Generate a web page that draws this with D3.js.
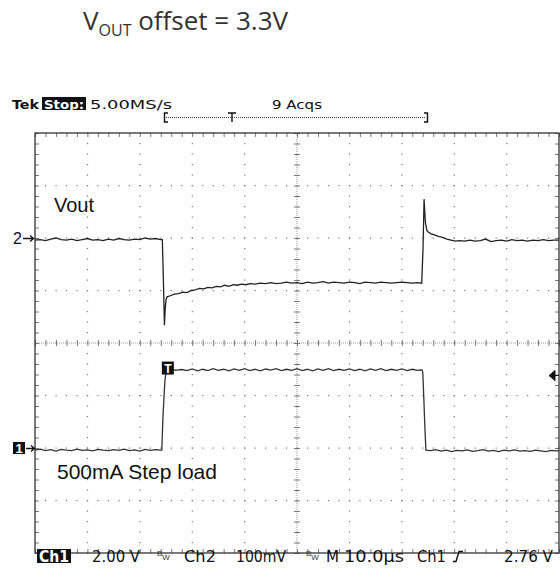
<!DOCTYPE html>
<html>
<head>
<meta charset="utf-8">
<script src="https://cdn.jsdelivr.net/npm/d3@7"></script>
<style>
body { margin: 0; background: #fff; }
svg { display: block; }
</style>
</head>
<body>
<svg id="svg" width="560" height="571"></svg>
<script>
// ---- scope settings ----
var timePerDiv = 10;          // µs/div (M 10.0µs)
var ch1VoltsPerDiv = 2;       // V/div
var ch2MilliVoltsPerDiv = 100;// mV/div
var ch1Position = -2;         // divisions from centre (1-> marker)
var ch2Position = 2;          // divisions from centre (2-> marker)
var triggerTime = 24.4;       // µs from left edge
var triggerLevel = 2.76;      // V on Ch1

// ---- Ch2 : Vout (mV, relative to the 3.3V offset) ----
var voutTime = [0, 1, 2, 3, 4, 5, 6, 7, 8, 9, 10, 11, 12, 13, 14, 15, 16, 17, 18, 19, 20, 21, 22, 23, 24, 24.3,
  24.45, 24.55, 24.7, 24.85, 25.0, 25.2,
  25.8, 26.6, 27.4, 28.2, 29.0, 29.8, 30.6, 31.4, 32.2, 33.0, 33.8, 34.6, 35.4, 36.2, 37.0, 37.8, 38.6, 39.4, 40.2, 41,
  42, 43, 44, 45, 46, 47, 48, 49, 50, 51, 52, 53, 54, 55, 56, 57, 58, 59, 60, 61, 62, 63, 64, 65, 66, 67, 68, 69, 70,
  71, 72, 73, 73.8,
  74.05, 74.25, 74.5, 74.8, 75.1, 75.6, 76.2, 77.0, 77.8, 78.6, 79.4, 80.2,
  81, 82, 83, 84, 85, 86, 87, 88, 89, 90, 91, 92, 93, 94, 95, 96, 97, 98, 99, 100];
var voutMv = [-4, -3, -5, -2, 0, -3, -4, -2, -5, -3, -1, -4, -3, -5, -2, -4, -1, -3, -4, -2, -3, 0, -2, -1, -3, -3,
  -60, -100, -166, -135, -118, -112,
  -110, -107, -106, -103, -104, -100, -99, -96, -97, -94, -95, -92, -93, -90, -92, -89, -90, -88, -89, -87,
  -88, -86, -87, -85, -87, -86, -84, -86, -85, -87, -84, -86, -85, -83, -86, -84, -85, -86, -84, -85, -87, -84, -85, -86, -84,
  -85, -86, -85, -84,
  -85, -86, -85, -86,
  -20, 74, 30, 14, 11, 8, 6, 3, 1, -2, -4, -6,
  -5, -6, -4, -6, -5, -2, -7, -5, -4, -6, -3, -5, -4, -6, -4, -5, -3, -5, -4, -4];

// ---- Ch1 : 500mA step load (V) ----
var loadTime = [0, 1, 2, 3, 4, 5, 6, 7, 8, 9, 10, 11, 12, 13, 14, 15, 16, 17, 18, 19, 20, 21, 22, 23, 24, 24.2,
  24.4, 24.8, 25.1,
  26, 27, 28, 29, 30, 31, 32, 33, 34, 35, 36, 37, 38, 39, 40, 41, 42, 43, 44, 45, 46, 47, 48, 49, 50,
  51, 52, 53, 54, 55, 56, 57, 58, 59, 60, 61, 62, 63, 64, 65, 66, 67, 68, 69, 70, 71, 72, 73, 73.8,
  74.0, 74.2, 74.4, 74.6,
  75.5, 76.5, 77.5, 78.5, 79.5, 80.5, 81.5, 82.5, 83.5, 84.5, 85.5, 86.5, 87.5, 88.5, 89.5, 90.5,
  91.5, 92.5, 93.5, 94.5, 95.5, 96.5, 97.5, 98.5, 99.5, 100];
var loadVolt = [-0.08, -0.04, -0.1, -0.06, -0.12, -0.05, -0.08, -0.1, -0.04, -0.09, -0.07, -0.11, -0.05, -0.08, -0.1, -0.06,
  -0.09, -0.04, -0.1, -0.07, -0.12, -0.05, -0.09, -0.06, -0.08, -0.08,
  1.1, 2.6, 2.97,
  2.98, 2.97, 2.99, 2.95, 3.01, 2.94, 3.0, 2.95, 3.02, 2.96, 3.0, 2.94, 3.01, 2.96, 3.02, 2.95, 3.0, 2.94, 3.01, 2.97,
  3.02, 2.95, 3.0, 2.96, 3.02, 2.95, 3.0, 2.94, 3.01, 2.96, 3.02, 2.95, 3.0, 2.96, 3.01, 2.95, 3.0, 2.94, 3.01, 2.96,
  3.02, 2.95, 3.0, 2.96, 3.01, 2.95, 3.0, 2.96, 2.98,
  2.9, 1.9, 0.8, -0.08,
  -0.1, -0.06, -0.12, -0.08, -0.14, -0.09, -0.11, -0.07, -0.13, -0.1, -0.06, -0.12, -0.09, -0.14, -0.08, -0.11,
  -0.07, -0.12, -0.1, -0.13, -0.08, -0.11, -0.14, -0.09, -0.11, -0.1];

var svg = d3.select('#svg');
var g = svg.append('g');

// screen: 10 x 8 divisions
var x = d3.scaleLinear().domain([0, 10 * timePerDiv]).range([35, 559]);
var div = d3.scaleLinear().domain([-4, 4]).range([553, 133]);
var ch1Y = function (v) { return div(v / ch1VoltsPerDiv + ch1Position); };
var ch2Y = function (v) { return div(v / ch2MilliVoltsPerDiv + ch2Position); };

var minorX = x.ticks(50);          // 1/5 div steps
var minorY = div.ticks(40);
var majorX = x.ticks(10);
var majorY = div.ticks(8);

// ---- graticule ----
var grid = g.append('g');
// dotted division lines
majorX.filter(function (t) { return t > 0 && t < 100 && t !== 50; }).forEach(function (t) {
  grid.selectAll(null).data(minorY).enter().append('rect')
    .attr('x', x(t) - 0.5).attr('y', function (d) { return div(d) - 0.5; })
    .attr('width', 1.2).attr('height', 1.2).attr('fill', '#777');
});
majorY.filter(function (d) { return d > -4 && d < 4 && d !== 0; }).forEach(function (d) {
  grid.selectAll(null).data(minorX).enter().append('rect')
    .attr('x', function (t) { return x(t) - 0.5; }).attr('y', div(d) - 0.5)
    .attr('width', 1.2).attr('height', 1.2).attr('fill', '#777');
});
// centre cross with ticks
grid.append('line').attr('x1', x(50)).attr('x2', x(50)).attr('y1', div(4)).attr('y2', div(-4))
  .attr('stroke', '#999').attr('stroke-dasharray', '1,1');
grid.append('line').attr('x1', x(0)).attr('x2', x(100)).attr('y1', div(0)).attr('y2', div(0))
  .attr('stroke', '#999').attr('stroke-dasharray', '1,1');
grid.selectAll(null).data(minorY).enter().append('line')
  .attr('x1', x(50) - 3).attr('x2', x(50) + 3)
  .attr('y1', function (d) { return div(d) + 0.5; }).attr('y2', function (d) { return div(d) + 0.5; })
  .attr('stroke', '#777');
grid.selectAll(null).data(minorX).enter().append('line')
  .attr('y1', div(0) - 3).attr('y2', div(0) + 3)
  .attr('x1', function (t) { return x(t) + 0.5; }).attr('x2', function (t) { return x(t) + 0.5; })
  .attr('stroke', '#777');
// ticks on the frame edges
grid.selectAll(null).data(minorX).enter().append('path')
  .attr('d', function (t) {
    var px = x(t) + 0.5;
    return 'M' + px + ',' + div(4) + 'v4M' + px + ',' + div(-4) + 'v-4';
  })
  .attr('stroke', '#777');
grid.selectAll(null).data(minorY).enter().append('path')
  .attr('d', function (d) {
    var py = div(d) + 0.5;
    return 'M' + x(0) + ',' + py + 'h4M' + x(100) + ',' + py + 'h-4';
  })
  .attr('stroke', '#777');

// frame
g.append('rect')
  .attr('x', x(0)).attr('y', div(4))
  .attr('width', x(100) - x(0)).attr('height', div(-4) - div(4))
  .attr('fill', 'none').attr('stroke', '#333').attr('stroke-width', 1.3);

// ---- traces ----
var vout = d3.line()
  .x(function (d, i) { return x(voutTime[i]); })
  .y(function (d) { return ch2Y(d); });
var load = d3.line()
  .x(function (d, i) { return x(loadTime[i]); })
  .y(function (d) { return ch1Y(d); });

g.append('path').attr('d', vout(voutMv))
  .attr('fill', 'none').attr('stroke', '#222').attr('stroke-width', 1.3);
g.append('path').attr('d', load(loadVolt))
  .attr('fill', 'none').attr('stroke', '#333').attr('stroke-width', 1.3);

// trigger marker on ch1
var tx = x(triggerTime), ty = ch1Y(triggerLevel);
g.append('rect').attr('x', tx - 1).attr('y', ty - 14).attr('width', 12).attr('height', 13).attr('fill', '#111');
g.append('text').attr('x', tx + 5).attr('y', ty - 3).attr('text-anchor', 'middle')
  .attr('font-family', 'Liberation Sans, Arial, sans-serif').attr('font-weight', 'bold')
  .attr('font-size', 12).attr('fill', '#fff').text('T');
// trigger level arrow on the right edge
g.append('path')
  .attr('d', 'M' + (x(100) - 10) + ',' + ty + 'l6,-5v10z M' + (x(100) - 5) + ',' + ty + 'H' + x(100))
  .attr('fill', '#111').attr('stroke', '#111');

// ---- labels ----
var font = 'Liberation Sans, Arial, sans-serif';
var scopeFont = 'DejaVu Sans, Verdana, sans-serif';

// title
var title = svg.append('text').attr('x', 83).attr('y', 30)
  .attr('font-family', 'Open Sans, Noto Sans, sans-serif').attr('font-size', 26).attr('fill', '#333');
title.append('tspan').text('V');
title.append('tspan').attr('font-size', 16).attr('dy', 6).text('OUT');
title.append('tspan').attr('dy', -6).text(' offset = 3.3V');

// header
svg.append('text').attr('x', 12).attr('y', 109).attr('font-family', scopeFont)
  .attr('font-size', 13).attr('font-weight', 'bold').attr('fill', '#111')
  .attr('textLength', 27).attr('lengthAdjust', 'spacingAndGlyphs').text('Tek');
svg.append('rect').attr('x', 42).attr('y', 97).attr('width', 44).attr('height', 13).attr('fill', '#111');
svg.append('text').attr('x', 44).attr('y', 109).attr('font-family', scopeFont)
  .attr('font-size', 13).attr('font-weight', 'bold').attr('fill', '#fff')
  .attr('textLength', 40).attr('lengthAdjust', 'spacingAndGlyphs').text('Stop:');
svg.append('text').attr('x', 90).attr('y', 109).attr('font-family', scopeFont)
  .attr('font-size', 13).attr('fill', '#111')
  .attr('textLength', 82).attr('lengthAdjust', 'spacingAndGlyphs').text('5.00MS/s');
svg.append('text').attr('x', 272).attr('y', 109).attr('font-family', scopeFont)
  .attr('font-size', 13).attr('fill', '#111')
  .attr('textLength', 50).attr('lengthAdjust', 'spacingAndGlyphs').text('9 Acqs');

// record bracket
svg.append('line').attr('x1', 166).attr('x2', 426).attr('y1', 117.5).attr('y2', 117.5)
  .attr('stroke', '#444').attr('stroke-dasharray', '1,1');
svg.append('path').attr('d', 'M168,113H164.5V122H168 M424,113H427.5V122H424 M228,113H236 M232,113V122')
  .attr('fill', 'none').attr('stroke', '#111').attr('stroke-width', 1.4);

// channel ground markers
svg.append('text').attr('x', 13).attr('y', ch2Y(0) + 6).attr('font-family', font)
  .attr('font-size', 16).attr('fill', '#111').text('2');
svg.append('path').attr('d', 'M23,' + (ch2Y(0) + 0.5) + 'H33 M30,' + (ch2Y(0) - 2.5) + 'L33.5,' + (ch2Y(0) + 0.5) + 'L30,' + (ch2Y(0) + 3.5))
  .attr('fill', 'none').attr('stroke', '#111').attr('stroke-width', 1.3);
svg.append('rect').attr('x', 13).attr('y', ch1Y(0) - 6).attr('width', 12).attr('height', 12).attr('fill', '#111');
svg.append('text').attr('x', 19).attr('y', ch1Y(0) + 5).attr('text-anchor', 'middle').attr('font-family', font)
  .attr('font-size', 13).attr('font-weight', 'bold').attr('fill', '#fff').text('1');
svg.append('path').attr('d', 'M26,' + (ch1Y(0) + 0.5) + 'H34 M31,' + (ch1Y(0) - 2.5) + 'L34.5,' + (ch1Y(0) + 0.5) + 'L31,' + (ch1Y(0) + 3.5))
  .attr('fill', 'none').attr('stroke', '#111').attr('stroke-width', 1.3);

// trace annotations
svg.append('text').attr('x', 54).attr('y', 212).attr('font-family', font)
  .attr('font-size', 20).attr('fill', '#111').text('Vout');
svg.append('text').attr('x', 57).attr('y', 479).attr('font-family', font)
  .attr('font-size', 21).attr('fill', '#111').text('500mA Step load');

// bottom status line
var by = 562;
svg.append('rect').attr('x', 37).attr('y', 549).attr('width', 34).attr('height', 14).attr('fill', '#111');
svg.append('text').attr('x', 54).attr('y', by).attr('text-anchor', 'middle').attr('font-family', scopeFont)
  .attr('font-size', 15).attr('font-weight', 'bold').attr('fill', '#fff')
  .attr('textLength', 30).attr('lengthAdjust', 'spacingAndGlyphs').text('Ch1');
var statusItems = [
  { x: 92, t: '2.00 V', w: 48 },
  { x: 184, t: 'Ch2', w: 32 },
  { x: 236, t: '100mV', w: 50 },
  { x: 326, t: 'M', w: 13 },
  { x: 344, t: '10.0µs', w: 60 },
  { x: 417, t: 'Ch1', w: 29 },
  { x: 504, t: '2.76 V', w: 49 }
];
svg.selectAll(null).data(statusItems).enter().append('text')
  .attr('x', function (d) { return d.x; }).attr('y', by)
  .attr('font-family', scopeFont).attr('font-size', 16).attr('fill', '#111')
  .attr('textLength', function (d) { return d.w; }).attr('lengthAdjust', 'spacingAndGlyphs')
  .text(function (d) { return d.t; });
// bandwidth-limit glyphs
[157, 306].forEach(function (bx) {
  var bw = svg.append('text').attr('x', bx).attr('y', 556).attr('font-family', font)
    .attr('font-size', 8).attr('fill', '#333');
  bw.append('tspan').text('B');
  bw.append('tspan').attr('dy', 4).text('W');
});
// rising edge glyph
svg.append('path').attr('d', 'M453,561.5H456L459,551.5H463')
  .attr('fill', 'none').attr('stroke', '#111').attr('stroke-width', 1.4);
</script>
</body>
</html>
